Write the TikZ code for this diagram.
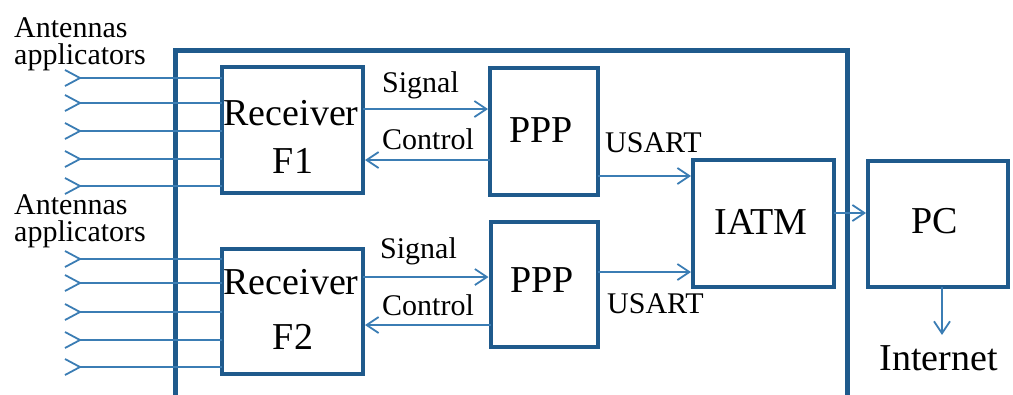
\documentclass[tikz,border=0pt]{standalone}
\usepackage{fontspec}
\setmainfont{Liberation Serif}
\usetikzlibrary{arrows.meta}
\definecolor{framec}{HTML}{1F5A8C}
\definecolor{linec}{HTML}{3B7DB4}
\tikzset{
  blk/.style={draw=framec, line width=4pt, inner sep=0pt, outer sep=0pt, fill=white},
  frm/.style={draw=framec, line width=5pt},
  wire/.style={draw=linec, line width=1.8pt},
  arr/.style={wire, -{Straight Barb[length=12pt,width=16pt,line width=1.8pt]}, shorten >=2pt},
  lbl/.style={font=\fontsize{30}{26}\selectfont, inner sep=0pt, anchor=base west},
  antlbl/.style={font=\fontsize{30}{27}\selectfont, inner sep=0pt, align=left, anchor=north west},
  big/.style={font=\fontsize{38}{40}\selectfont, inner sep=0pt, anchor=base},
}
\begin{document}
\begin{tikzpicture}[x=1pt,y=-1pt]
\useasboundingbox (0,0) rectangle (1013,394);

% enclosure of the acquisition unit (open at the bottom)
\draw[frm] (175,400) -- (175,50) -- (847,50) -- (847,400);

% blocks
\node[blk, minimum width=141pt, minimum height=126pt] (r1) at (292.5,130) {};
\node[blk, minimum width=141pt, minimum height=125pt] (r2) at (292.5,311.5) {};
\node[blk, minimum width=108pt, minimum height=127pt] (p1) at (544,131.5) {};
\node[blk, minimum width=107pt, minimum height=125pt] (p2) at (544,284.5) {};
\node[blk, minimum width=141pt, minimum height=127pt] (iatm) at (763.5,223.5) {};
\node[blk, minimum width=140pt, minimum height=126pt] (pc) at (938,224) {};

% block texts
\node[big] (r1a) at (291,125) {Receiver};
\node[big] (r1b) at (293,173) {F1};
\node[big] (r2a) at (291,294) {Receiver};
\node[big] (r2b) at (293,349) {F2};
\node[big] (p1t) at (541,142) {PPP};
\node[big] (p2t) at (542,292) {PPP};
\node[big] (it) at (761,234) {IATM};
\node[big] (pct) at (935,233) {PC};
\node[big] (inet) at (938.5,370) {Internet};

% antenna applicators
\node[antlbl] (ant1) at (14,17) {Antennas\\applicators};
\node[antlbl] (ant2) at (14,194) {Antennas\\applicators};

\foreach \i/\y in {1/78,2/103,3/131,4/159,5/186}{
  \coordinate (ta\i) at (80,\y);
  \draw[wire] ([shift={(-15,-8)}]ta\i) -- (ta\i) -- ([shift={(-15,8)}]ta\i);
  \draw[wire] (ta\i) -- (ta\i -| r1.west);
}
\foreach \i/\y in {1/259,2/283,3/312,4/340,5/367}{
  \coordinate (tb\i) at (80,\y);
  \draw[wire] ([shift={(-15,-8)}]tb\i) -- (tb\i) -- ([shift={(-15,8)}]tb\i);
  \draw[wire] (tb\i) -- (tb\i -| r2.west);
}

% receiver <-> PPP links
\draw[arr] (r1.east |- 0,109) -- (p1.west |- 0,109);
\draw[arr] (p1.west |- 0,160) -- (r1.east |- 0,160);
\draw[arr] (r2.east |- 0,277) -- (p2.west |- 0,277);
\draw[arr] (p2.west |- 0,325) -- (r2.east |- 0,325);
\node[lbl] (s1) at (382,92) {Signal};
\node[lbl] (c1) at (382,149) {Control};
\node[lbl] (s2) at (380,258) {Signal};
\node[lbl] (c2) at (382,315) {Control};

% PPP -> IATM
\draw[arr] (p1.east |- 0,176) -- (iatm.west |- 0,176);
\draw[arr] (p2.east |- 0,272) -- (iatm.west |- 0,272);
\node[lbl] (u1) at (605,152) {USART};
\node[lbl] (u2) at (607,313) {USART};

% IATM -> PC -> Internet
\draw[arr] (iatm.east |- 0,213) -- (pc.west |- 0,213);
\draw[arr, shorten >=10pt] (pc.south -| 942,0) -- (inet.north -| 942,0);
\end{tikzpicture}
\end{document}
